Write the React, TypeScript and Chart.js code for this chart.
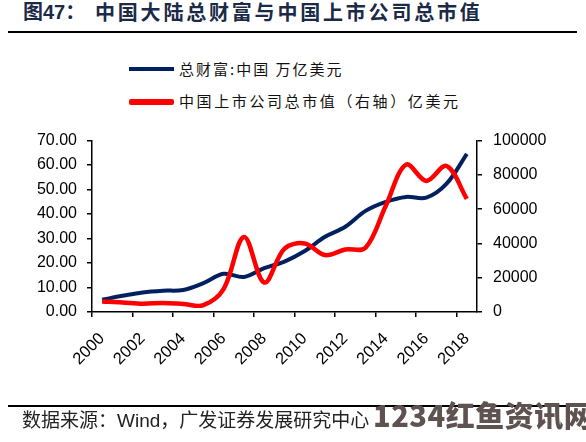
import React, { useEffect, useRef } from "react";
import { Chart, registerables } from "chart.js";

Chart.register(...registerables);

// ---- data ----
const years = [2000, 2001, 2002, 2003, 2004, 2005, 2006, 2007, 2008, 2009, 2010, 2011, 2012, 2013, 2014, 2015, 2016, 2017, 2018];
const totalWealth = [5.0, 6.6, 8.0, 8.7, 9.0, 11.8, 15.6, 14.3, 17.9, 20.6, 24.9, 30.7, 34.8, 41.3, 45.0, 47.0, 46.7, 52.4, 64.6];
const marketCap = [6150, 5600, 4800, 5300, 4700, 4000, 13500, 43800, 17200, 37000, 40000, 33200, 36500, 37500, 62000, 86000, 76500, 85200, 66000];
const xTickYears = [2000, 2002, 2004, 2006, 2008, 2010, 2012, 2014, 2016, 2018];
const leftTicks = [0, 10, 20, 30, 40, 50, 60, 70];
const rightTicks = [0, 20000, 40000, 60000, 80000, 100000];

const titlePrefix = "图47：";
const titleText = "中国大陆总财富与中国上市公司总市值";
const legendWealth = "总财富:中国 万亿美元";
const legendCap = "中国上市公司总市值（右轴）亿美元";
const sourceText = "数据来源：Wind，广发证券发展研究中心";
const watermark = "1234红鱼资讯网";

const BLUE = "#002060";
const RED = "#ff0000";
const AXIS_FONT = "Arial, 'Liberation Sans', sans-serif";
const CJK = "'Noto Sans CJK SC', 'Noto Sans', sans-serif";

const LABEL_DX = 10;
const LABEL_DY = 8;

function shiftXLabels(scale: any) {
  if (scale.__patched || typeof scale._computeLabelItems !== "function") return;
  scale.__patched = true;
  const orig = scale._computeLabelItems;
  scale._computeLabelItems = function (ca: any) {
    const items = orig.call(this, ca);
    return items.map((it: any) => {
      const t = it.options.translation;
      return { ...it, options: { ...it.options, translation: [t[0] + LABEL_DX, t[1] + LABEL_DY] } };
    });
  };
}

export default function App() {
  const ref = useRef<HTMLCanvasElement | null>(null);

  useEffect(() => {
    if (!ref.current) return;
    const tickFont = { family: AXIS_FONT, size: 16 };
    const chart = new Chart(ref.current, {
      type: "line",
      data: {
        datasets: [
          {
            label: legendWealth,
            data: years.map((y, i) => ({ x: y + 0.5, y: totalWealth[i] })),
            yAxisID: "y",
            borderColor: BLUE,
            backgroundColor: BLUE,
            borderWidth: 4,
            pointRadius: 0,
            tension: 0.35,
            fill: false,
            order: 1,
          },
          {
            label: legendCap,
            data: years.map((y, i) => ({ x: y + 0.5, y: marketCap[i] })),
            yAxisID: "y1",
            borderColor: RED,
            backgroundColor: RED,
            borderWidth: 4.5,
            pointRadius: 0,
            tension: 0.35,
            fill: false,
            order: 0,
          },
        ],
      },
      options: {
        animation: false,
        responsive: false,
        layout: { padding: { top: 19, left: 0, right: 0, bottom: 0 } },
        plugins: { legend: { display: false }, tooltip: { enabled: false }, title: { display: false } },
        scales: {
          x: {
            type: "linear",
            position: "bottom",
            min: 2000,
            max: 2019,
            afterBuildTicks: (s: any) => {
              s.ticks = xTickYears.map((v) => ({ value: v }));
            },
            afterFit: (s: any) => {
              s.height = 98;
            },
            afterUpdate: shiftXLabels,
            ticks: {
              autoSkip: false,
              minRotation: 45,
              maxRotation: 45,
              color: "#000",
              font: { family: AXIS_FONT, size: 16.5 },
              padding: 4,
              callback: (v: any) => String(v),
            },
            grid: { display: true, drawOnChartArea: false, drawTicks: true, tickLength: 5, color: "#000", lineWidth: 1.5 },
            border: { display: true, color: "#000", width: 1.5 },
          },
          y: {
            position: "left",
            min: 0,
            max: 70,
            afterBuildTicks: (s: any) => {
              s.ticks = leftTicks.map((v) => ({ value: v }));
            },
            afterFit: (s: any) => {
              s.width = 92;
            },
            ticks: { color: "#000", font: tickFont, padding: 10, callback: (v: any) => Number(v).toFixed(2) },
            grid: { display: true, drawOnChartArea: false, drawTicks: true, tickLength: 5, color: "#000", lineWidth: 1.5 },
            border: { display: true, color: "#000", width: 1.5 },
          },
          y1: {
            position: "right",
            min: 0,
            max: 100000,
            afterBuildTicks: (s: any) => {
              s.ticks = rightTicks.map((v) => ({ value: v }));
            },
            afterFit: (s: any) => {
              s.width = 109;
            },
            ticks: { color: "#000", font: tickFont, padding: 11, callback: (v: any) => String(v) },
            grid: { display: true, drawOnChartArea: false, drawTicks: true, tickLength: 5, color: "#000", lineWidth: 1.5 },
            border: { display: true, color: "#000", width: 1.5 },
          },
        },
      } as any,
    });
    return () => chart.destroy();
  }, []);

  const abs = (s: React.CSSProperties): React.CSSProperties => ({ position: "absolute", whiteSpace: "nowrap", ...s });

  return (
    <div style={abs({ left: 0, top: 0, width: 586, height: 442, background: "#fff", overflow: "hidden" })}>
      {/* title */}
      <div style={abs({ left: 23, top: 2, fontFamily: "Arial, " + CJK, fontWeight: 700, fontSize: 20, lineHeight: "20px", color: "#1b2a47" })}>
        {titlePrefix}
      </div>
      <div style={abs({ left: 95, top: 2, fontFamily: CJK, fontWeight: 600, fontSize: 20, lineHeight: "20px", letterSpacing: 2.8, color: "#1b2a47" })}>
        {titleText}
      </div>
      <div style={abs({ left: 8, top: 31, width: 569, height: 1.5, background: "#000" })} />

      {/* legend */}
      <div style={abs({ left: 129, top: 67, width: 45, height: 4, background: BLUE })} />
      <div style={abs({ left: 179, top: 60.7, fontFamily: CJK, fontSize: 15, lineHeight: "15px", letterSpacing: 2, color: "#111" })}>
        {legendWealth}
      </div>
      <div style={abs({ left: 129, top: 99, width: 45, height: 5.5, background: RED, borderRadius: 2 })} />
      <div style={abs({ left: 179, top: 93.3, fontFamily: CJK, fontSize: 15, lineHeight: "15px", letterSpacing: 2.6, color: "#111" })}>
        {legendCap}
      </div>

      {/* chart */}
      <div style={abs({ left: 0, top: 120, width: 586, height: 290 })}>
        <canvas ref={ref} width={586} height={290} style={{ display: "block", width: 586, height: 290 }} />
      </div>

      {/* footer */}
      <div style={abs({ left: 8, top: 405, width: 569, height: 1.5, background: "#000" })} />
      <div style={abs({ left: 22, top: 411.4, fontFamily: "Arial, " + CJK, fontSize: 19, lineHeight: "19px", color: "#222" })}>
        {sourceText}
      </div>
      <div style={abs({ left: 373, top: 400, fontFamily: CJK, fontWeight: 900, fontSize: 29, lineHeight: "29px", letterSpacing: 0.5, color: "#5f5352" })}>
        {watermark}
      </div>
    </div>
  );
}
